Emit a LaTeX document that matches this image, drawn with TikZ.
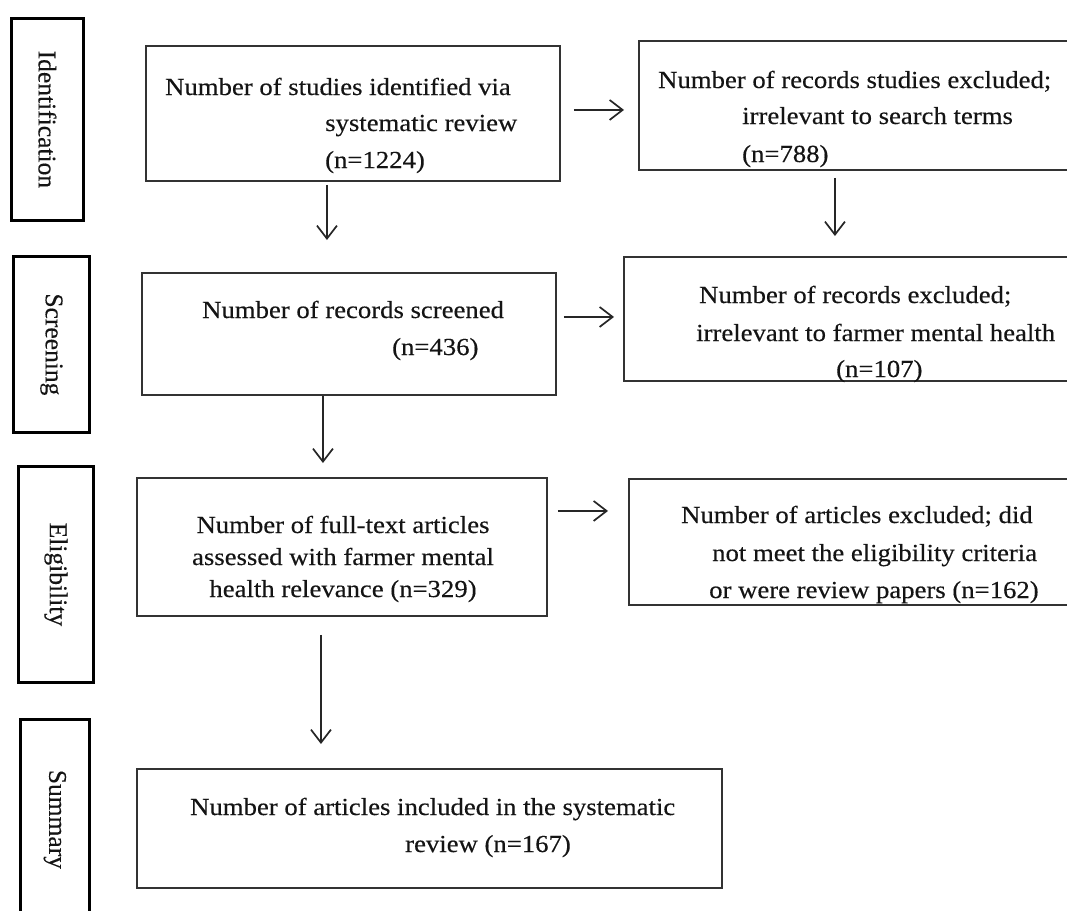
\documentclass[tikz,border=0pt]{standalone}
\usepackage{fontspec}
\setmainfont{Liberation Serif}
\newfontfamily\boxfont{Liberation Serif}[FakeStretch=1.09,FakeBold=0.3]
\newfontfamily\sidefont{Liberation Serif}[FakeBold=0.3]
\usetikzlibrary{arrows.meta,calc}
\begin{document}
\begin{tikzpicture}[x=1pt,y=-1pt,
  sidebox/.style={draw=black, line width=2.8pt, inner sep=0pt, anchor=north west},
  mainbox/.style={draw=black!80, line width=1.9pt, inner sep=0pt, anchor=north west},
  txt/.style={font=\boxfont\fontsize{24.5}{28}\selectfont, inner sep=0pt, anchor=base west, text=black!92},
  ctxt/.style={txt, anchor=base},
  sidetxt/.style={font=\sidefont\fontsize{25.5}{28}\selectfont, inner sep=0pt, rotate=-90, text=black!92},
  arr/.style={draw=black!85, line width=1.7pt, -{Straight Barb[length=13pt, width=20pt, line width=1.7pt]}}
]
\useasboundingbox (0,0) rectangle (1067,910);
\clip (0,0) rectangle (1067,910);
\fill[white] (0,0) rectangle (1067,910);

% side stage labels
\node[sidebox, minimum width=72pt, minimum height=202pt] (sid) at (10,17) {};
\node[sidetxt] (tid) at (sid.center) {Identification};
\node[sidebox, minimum width=76pt, minimum height=176pt] (sscr) at (12,255) {};
\node[sidetxt] (tscr) at (sscr.center) {Screening};
\node[sidebox, minimum width=75pt, minimum height=216pt] (selig) at (17,465) {};
\node[sidetxt] (telig) at (selig.center) {Eligibility};
\node[sidebox, minimum width=69pt, minimum height=200pt] (ssum) at (19,718) {};
\node[sidetxt] (tsum) at (ssum.center) {Summary};

% main boxes
\node[mainbox, minimum width=414pt, minimum height=135pt] (b1) at (145,45) {};
\node[mainbox, minimum width=437pt, minimum height=129pt] (b2) at (638,40) {};
\node[mainbox, minimum width=414pt, minimum height=122pt] (b3) at (141,272) {};
\node[mainbox, minimum width=452pt, minimum height=124pt] (b4) at (623,256) {};
\node[mainbox, minimum width=410pt, minimum height=138pt] (b5) at (136,477) {};
\node[mainbox, minimum width=447pt, minimum height=126pt] (b6) at (628,478) {};
\node[mainbox, minimum width=585pt, minimum height=119pt] (b7) at (136,768) {};

% texts
\node[txt] (b1l1) at (165,95) {Number of studies identified via};
\node[txt] (b1l2) at (325,131) {systematic review};
\node[txt] (b1l3) at (325,168) {(n=1224)};

\node[txt] (b2l1) at (658,88) {Number of records studies excluded;};
\node[txt] (b2l2) at (742,124) {irrelevant to search terms};
\node[txt] (b2l3) at (742,162) {(n=788)};

\node[txt] (b3l1) at (202,318) {Number of records screened};
\node[txt] (b3l2) at (392,355) {(n=436)};

\node[txt] (b4l1) at (699,303) {Number of records excluded;};
\node[txt] (b4l2) at (696,341) {irrelevant to farmer mental health};
\node[txt] (b4l3) at (836,377) {(n=107)};

\node[ctxt] (b5l1) at (343,533) {Number of full-text articles};
\node[ctxt] (b5l2) at (343,565) {assessed with farmer mental};
\node[ctxt] (b5l3) at (343,597) {health relevance (n=329)};

\node[txt] (b6l1) at (681,523) {Number of articles excluded; did};
\node[txt] (b6l2) at (712,561) {not meet the eligibility criteria};
\node[txt] (b6l3) at (709,598) {or were review papers (n=162)};

\node[txt] (b7l1) at (190,815) {Number of articles included in the systematic};
\node[txt] (b7l2) at (405,852) {review (n=167)};

% connectors
\draw[arr, shorten <=13pt, shorten >=14pt] ([yshift=3.5pt]b1.east) -- ([yshift=3.5pt]b1.east -| b2.west);
\draw[arr, shorten <=3pt, shorten >=32pt] ([xshift=-26pt]b1.south) -- ([xshift=-26pt]b1.south |- b3.north);
\draw[arr, shorten <=7pt, shorten >=20pt] ([xshift=-22.5pt]b2.south) -- ([xshift=-22.5pt]b2.south |- b4.north);
\draw[arr, shorten <=7pt, shorten >=9pt] ([yshift=17pt]b3.east) -- ([yshift=17pt]b3.east -| b4.west);
\draw[arr, shorten <=0pt, shorten >=14pt] ([xshift=-26pt]b3.south) -- ([xshift=-26pt]b3.south |- b5.north);
\draw[arr, shorten <=10pt, shorten >=20pt] ([yshift=36pt]b5.east) -- ([yshift=36pt]b5.east -| b6.west);
\draw[arr, shorten <=18pt, shorten >=24pt] ([xshift=-21pt]b5.south) -- ([xshift=-21pt]b5.south |- b7.north);
\end{tikzpicture}
\end{document}
